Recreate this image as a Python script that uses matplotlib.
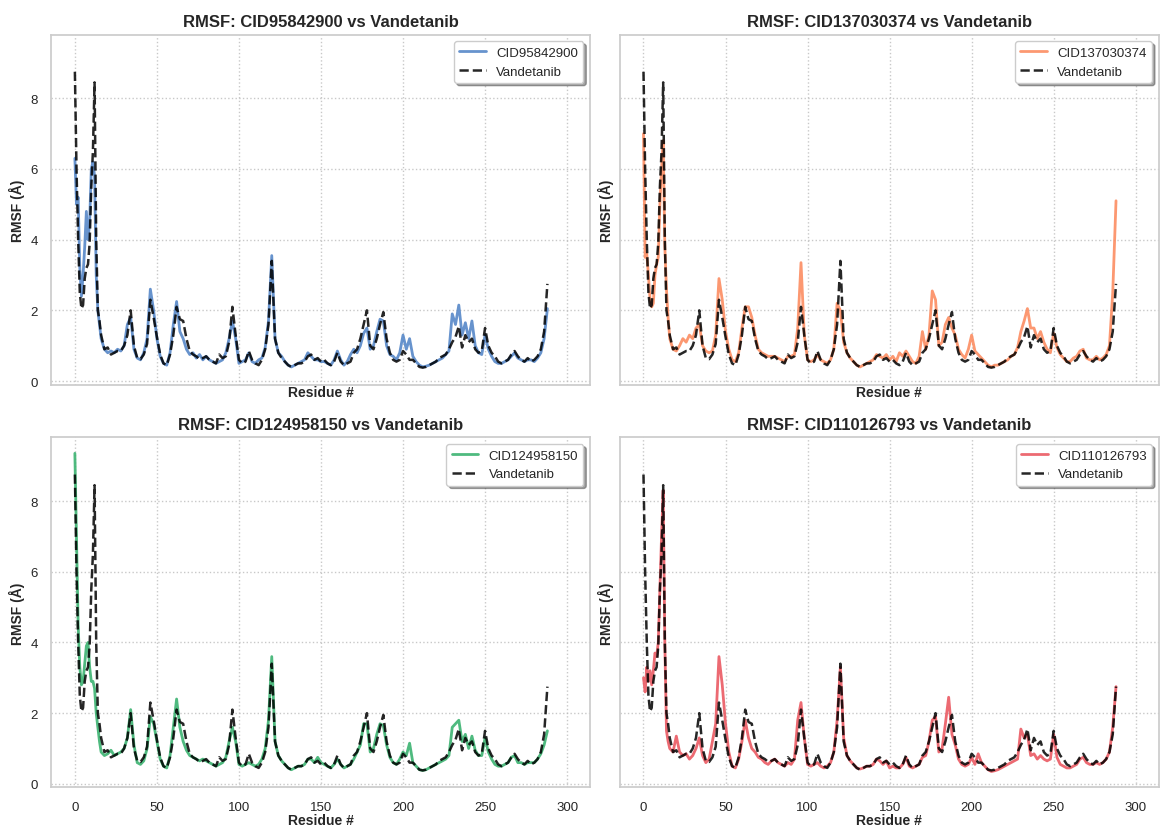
import matplotlib
matplotlib.use('Agg')
import matplotlib.pyplot as plt
import seaborn as sns

sns.set_theme(style='whitegrid')
plt.rcParams['font.family'] = ['Liberation Sans', 'DejaVu Sans']

# residue numbers: every residue at the N-terminus, then every second residue
residues = list(range(0, 17)) + list(range(18, 289, 2))

vandetanib = [8.75, 6.0, 4.0, 2.5, 2.05, 2.15, 2.9, 3.2, 3.3, 3.9, 5.5, 6.5, 8.45, 4.0, 2.0, 1.7, 1.3,
              0.9, 0.95, 0.75, 0.8, 0.85, 0.85, 1.0, 1.3, 2.0, 1.0,
              0.65, 0.62, 0.75, 1.05, 2.3, 1.8, 1.25, 0.75, 0.5, 0.45,
              0.75, 1.3, 2.1, 1.75, 1.7, 1.2, 0.85, 0.75, 0.7, 0.62,
              0.65, 0.7, 0.6, 0.55, 0.5, 0.75, 0.65, 0.7, 1.1, 2.1,
              1.3, 0.6, 0.5, 0.55, 0.85, 0.6, 0.5, 0.45, 0.6, 0.9,
              1.6, 3.4, 1.2, 0.8, 0.65, 0.55, 0.45, 0.4, 0.45, 0.5,
              0.5, 0.55, 0.7, 0.75, 0.6, 0.65, 0.55, 0.6, 0.5, 0.45,
              0.55, 0.8, 0.55, 0.45, 0.5, 0.55, 0.8, 0.9, 1.2, 1.6,
              2.0, 1.0, 0.9, 1.2, 1.6, 1.95, 1.2, 0.8, 0.6, 0.55,
              0.6, 0.85, 0.75, 0.6, 0.6, 0.5, 0.4, 0.38, 0.4, 0.45,
              0.5, 0.55, 0.65, 0.7, 0.75, 0.9, 1.1, 1.25, 1.55, 0.95,
              1.3, 1.1, 1.2, 0.9, 0.8, 0.85, 1.5, 1.0, 0.8, 0.7,
              0.55, 0.5, 0.55, 0.6, 0.75, 0.85, 0.7, 0.6, 0.55, 0.65,
              0.55, 0.6, 0.7, 0.9, 1.4, 2.75]

cid95842900 = [6.3, 5.0, 5.2, 3.2, 2.4, 3.0, 3.8, 4.8, 4.0, 4.5, 6.0, 6.2, 5.8, 3.0, 2.0, 1.6, 1.2,
               0.9, 0.8, 0.85, 0.8, 0.9, 0.85, 1.0, 1.6, 1.8, 0.9,
               0.65, 0.6, 0.8, 1.2, 2.6, 2.0, 1.2, 0.7, 0.5, 0.45,
               0.8, 1.6, 2.25, 1.4, 1.2, 0.9, 0.75, 0.8, 0.65, 0.75,
               0.6, 0.7, 0.6, 0.55, 0.5, 0.55, 0.6, 0.8, 1.2, 1.7,
               1.2, 0.5, 0.55, 0.6, 0.8, 0.55, 0.5, 0.6, 0.65, 0.95,
               1.7, 3.55, 1.2, 0.8, 0.7, 0.55, 0.45, 0.4, 0.45, 0.5,
               0.55, 0.6, 0.8, 0.7, 0.6, 0.6, 0.55, 0.55, 0.5, 0.45,
               0.6, 0.85, 0.6, 0.45, 0.55, 0.75, 0.9, 0.8, 1.0, 1.35,
               1.5, 0.9, 1.0, 1.4, 1.75, 1.7, 1.0, 0.75, 0.7, 0.6,
               0.8, 1.3, 0.9, 1.2, 0.7, 0.55, 0.45, 0.4, 0.42, 0.45,
               0.5, 0.55, 0.6, 0.65, 0.75, 0.85, 1.9, 1.6, 2.15, 1.3,
               1.65, 1.2, 1.7, 1.0, 0.8, 0.75, 1.3, 0.9, 0.7, 0.55,
               0.5, 0.5, 0.55, 0.6, 0.7, 0.8, 0.65, 0.6, 0.55, 0.6,
               0.6, 0.55, 0.65, 0.8, 1.2, 2.05]

cid137030374 = [7.0, 3.5, 3.6, 3.0, 2.3, 2.1, 2.2, 3.0, 3.3, 3.5, 5.0, 6.0, 6.8, 3.8, 2.6, 1.8, 1.2,
                0.9, 0.85, 1.0, 1.2, 1.1, 1.3, 1.2, 1.5, 1.6, 1.0,
                0.85, 0.8, 0.85, 1.3, 2.9, 2.3, 1.4, 0.9, 0.6, 0.55,
                0.8, 1.5, 2.1, 2.1, 1.8, 1.3, 0.9, 0.8, 0.75, 0.7,
                0.7, 0.7, 0.65, 0.6, 0.55, 0.7, 0.7, 0.75, 1.5, 3.35,
                1.3, 0.6, 0.55, 0.6, 0.75, 0.6, 0.55, 0.5, 0.6, 0.9,
                2.2, 2.0, 1.1, 0.8, 0.65, 0.55, 0.45, 0.4, 0.45, 0.5,
                0.55, 0.6, 0.75, 0.7, 0.65, 0.75, 0.6, 0.7, 0.55, 0.8,
                0.7, 0.85, 0.7, 0.55, 0.5, 0.7, 1.4, 0.9, 1.3, 2.55,
                2.3, 1.0, 1.1, 1.6, 1.8, 1.5, 1.3, 0.9, 0.75, 0.65,
                0.9, 1.3, 0.85, 0.75, 0.65, 0.55, 0.45, 0.4, 0.45, 0.45,
                0.5, 0.55, 0.6, 0.7, 0.75, 0.95, 1.4, 1.7, 2.05, 1.5,
                1.5, 1.2, 1.4, 1.1, 0.9, 0.8, 1.35, 0.95, 0.75, 0.65,
                0.55, 0.55, 0.65, 0.7, 0.85, 0.9, 0.65, 0.6, 0.6, 0.7,
                0.6, 0.65, 0.75, 1.0, 2.5, 5.1]

cid124958150 = [9.35, 7.0, 4.5, 3.3, 2.8, 2.9, 3.4, 3.9, 4.0, 3.3, 2.9, 2.9, 2.7, 2.0, 1.6, 1.2, 0.9,
                0.8, 0.85, 0.95, 0.8, 0.85, 0.9, 1.0, 1.3, 2.1, 1.1,
                0.6, 0.55, 0.65, 1.0, 1.9, 1.7, 1.2, 0.7, 0.5, 0.45,
                0.8, 1.6, 2.4, 1.6, 1.2, 0.95, 0.8, 0.75, 0.7, 0.65,
                0.7, 0.65, 0.6, 0.55, 0.5, 0.55, 0.6, 0.75, 1.2, 1.6,
                1.2, 0.55, 0.5, 0.55, 0.6, 0.55, 0.5, 0.55, 0.7, 1.0,
                1.8, 3.6, 1.2, 0.8, 0.65, 0.55, 0.45, 0.4, 0.45, 0.5,
                0.5, 0.55, 0.7, 0.7, 0.6, 0.75, 0.6, 0.55, 0.5, 0.45,
                0.55, 0.7, 0.55, 0.45, 0.5, 0.55, 0.7, 0.9, 1.1, 1.7,
                1.7, 0.9, 1.0, 1.4, 1.7, 1.65, 1.1, 0.75, 0.6, 0.55,
                0.7, 0.9, 0.8, 1.15, 0.6, 0.5, 0.4, 0.38, 0.4, 0.45,
                0.5, 0.55, 0.6, 0.65, 0.7, 0.8, 1.6, 1.7, 1.8, 1.2,
                1.4, 1.0, 1.35, 0.95, 0.8, 0.8, 1.3, 0.9, 0.7, 0.55,
                0.5, 0.5, 0.55, 0.6, 0.75, 0.8, 0.6, 0.6, 0.55, 0.6,
                0.6, 0.6, 0.7, 0.85, 1.1, 1.5]

cid110126793 = [3.0, 2.6, 3.3, 2.9, 3.2, 2.8, 3.2, 3.7, 3.6, 4.0, 5.5, 7.0, 8.3, 4.0, 1.5, 1.2, 1.0,
                0.9, 1.35, 0.9, 0.8, 0.85, 0.7, 0.8, 1.0, 1.3, 0.8,
                0.6, 0.7, 1.2, 1.7, 3.6, 2.8, 1.7, 0.9, 0.5, 0.45,
                0.7, 1.2, 1.8, 1.3, 1.0, 0.9, 0.75, 0.7, 0.6, 0.55,
                0.65, 0.7, 0.6, 0.55, 0.5, 0.6, 0.55, 0.7, 1.8, 2.3,
                1.3, 0.55, 0.5, 0.55, 0.6, 0.5, 0.45, 0.5, 0.6, 0.9,
                1.8, 3.3, 1.3, 0.8, 0.65, 0.55, 0.45, 0.42, 0.45, 0.5,
                0.5, 0.55, 0.7, 0.65, 0.55, 0.65, 0.45, 0.5, 0.45, 0.45,
                0.55, 0.75, 0.5, 0.45, 0.5, 0.55, 0.75, 0.8, 1.2, 1.8,
                1.9, 0.9, 1.0, 1.7, 2.45, 1.4, 1.1, 0.7, 0.55, 0.5,
                0.55, 0.75, 0.55, 0.85, 0.6, 0.5, 0.4, 0.35, 0.37, 0.4,
                0.45, 0.5, 0.55, 0.6, 0.65, 0.7, 1.55, 1.3, 1.4, 0.8,
                0.85, 0.7, 0.8, 0.7, 0.65, 0.7, 1.4, 0.75, 0.55, 0.5,
                0.45, 0.45, 0.5, 0.55, 0.7, 0.75, 0.6, 0.55, 0.55, 0.6,
                0.55, 0.6, 0.7, 0.9, 1.6, 2.75]

compounds = ['CID95842900', 'CID137030374', 'CID124958150', 'CID110126793']
series = [cid95842900, cid137030374, cid124958150, cid110126793]
colors = ['#5687C8', '#FC8D62', '#3CB371', '#EA5A63']

fig, axes = plt.subplots(2, 2, figsize=(11.61, 8.29), dpi=100, sharex=True, sharey=True)
fig.subplots_adjust(left=0.044, right=0.998, bottom=0.049, top=0.957, wspace=0.055, hspace=0.151)

for ax, name, vals, col in zip(axes.flat, compounds, series, colors):
    ax.plot(residues, vals, color=col, lw=2, alpha=0.9, label=name)
    ax.plot(residues, vandetanib, '--', color='black', lw=1.8, alpha=0.85, label='Vandetanib')
    ax.set_title(f'RMSF: {name} vs Vandetanib', fontsize=12, fontweight='bold')
    ax.set_xlabel('Residue #', fontsize=10, fontweight='bold', labelpad=0)
    ax.set_ylabel('RMSF (Å)', fontsize=10, fontweight='bold')
    ax.grid(True, linestyle=':', color='#bbbbbb', alpha=0.8)
    ax.tick_params(labelsize=9.5)
    ax.legend(loc='upper right', fontsize=9.5, frameon=True, shadow=True)

axes[0, 0].set_xlim(-14.5, 314)
axes[0, 1].set_ylabel('RMSF (Å)', fontsize=10, fontweight='bold')
axes[1, 1].set_ylabel('RMSF (Å)', fontsize=10, fontweight='bold')

plt.savefig('out.png', dpi=100)
